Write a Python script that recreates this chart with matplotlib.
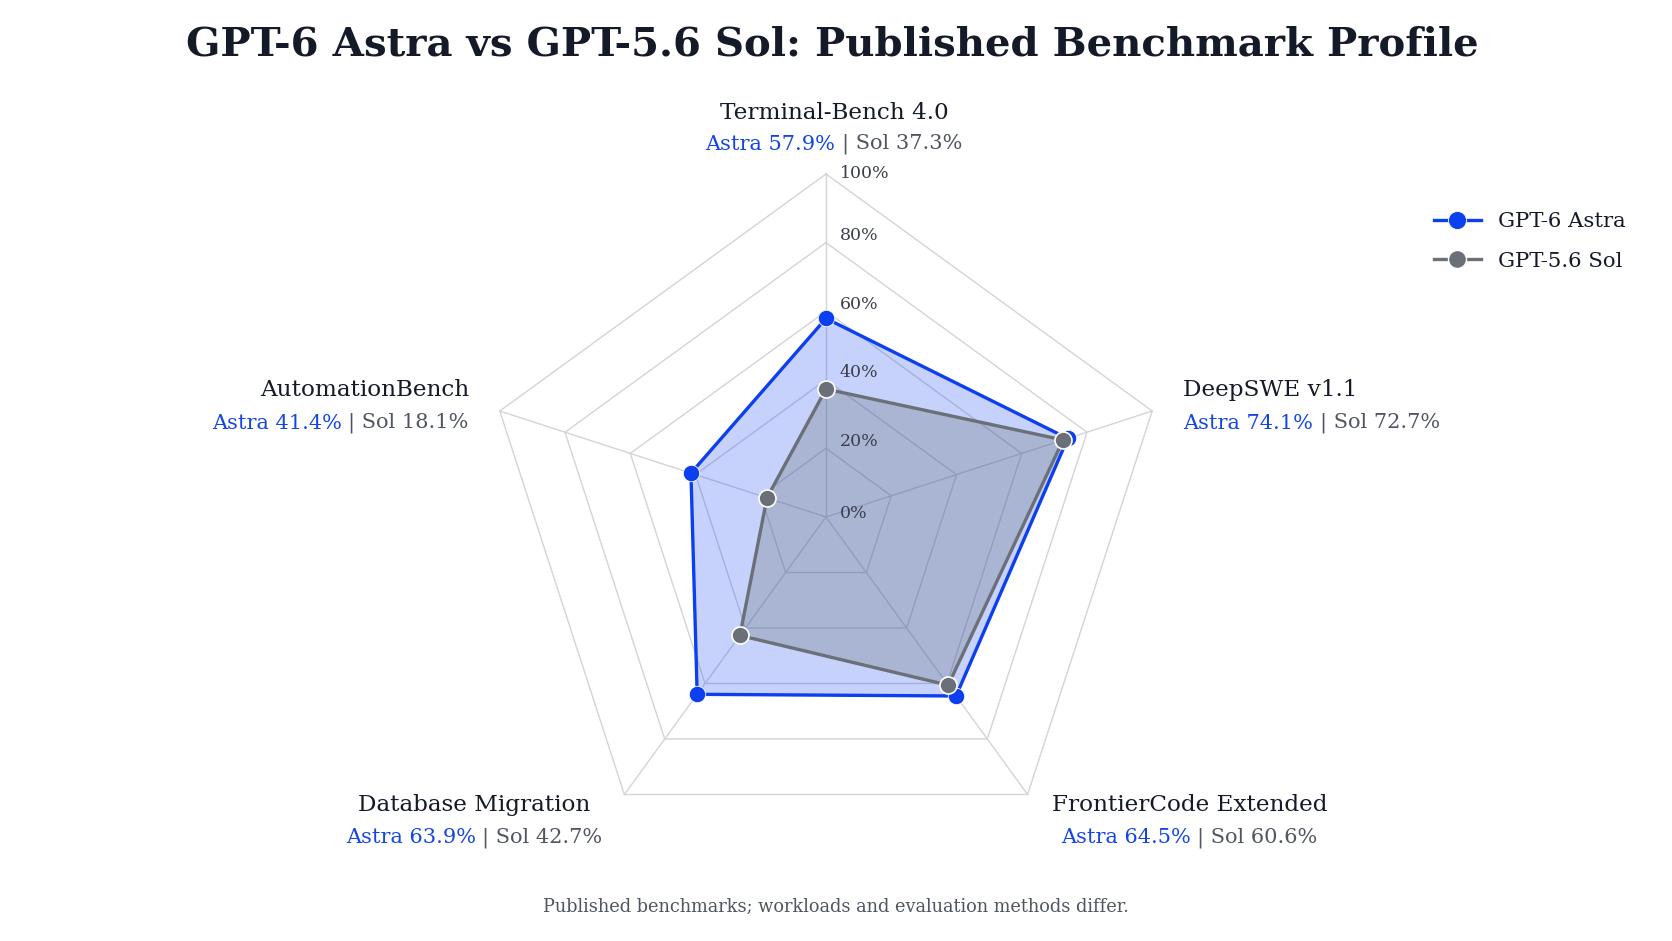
import numpy as np
import matplotlib.pyplot as plt
from matplotlib.lines import Line2D
from matplotlib.transforms import IdentityTransform

# --- data ---
categories = ["Terminal-Bench 4.0", "DeepSWE v1.1", "FrontierCode Extended",
              "Database Migration", "AutomationBench"]
astra = [57.9, 74.1, 64.5, 63.9, 41.4]
sol = [37.3, 72.7, 60.6, 42.7, 18.1]
ring_ticks = [0, 20, 40, 60, 80, 100]
ring_labels = ["0%", "20%", "40%", "60%", "80%", "100%"]
series_names = ["GPT-6 Astra", "GPT-5.6 Sol"]

# --- style ---
FONT = "DejaVu Serif"
BLUE = "#0b3ff0"
BLUE_TXT = "#1446e6"
GREY = "#6b7078"
GREY_TXT = "#4f5561"
DARK = "#151a28"
GRID = "#d2d4d8"

W, H = 1672, 941
plt.rcParams["font.family"] = FONT

fig = plt.figure(figsize=(W / 100, H / 100), dpi=100)
fig.patch.set_facecolor("white")

# radar axes: centre at (826, 517) px from top-left, 100% ring = 343 px
half = 400
ax = fig.add_axes([(826 - half) / W, (H - 517 - half) / H, 2 * half / W, 2 * half / H])
lim = 100 * half / 343
ax.set_xlim(-lim, lim)
ax.set_ylim(-lim, lim)
ax.axis("off")

angles = np.deg2rad(90 - 72 * np.arange(len(categories)))


def to_xy(vals):
    r = np.asarray(vals, dtype=float)
    x = r * np.cos(angles)
    y = r * np.sin(angles)
    return np.append(x, x[0]), np.append(y, y[0])


# polygon grid + spokes
for t in ring_ticks[1:]:
    gx, gy = to_xy([t] * len(categories))
    ax.plot(gx, gy, color=GRID, lw=1, zorder=1)
for a in angles:
    ax.plot([0, 100 * np.cos(a)], [0, 100 * np.sin(a)], color=GRID, lw=1, zorder=1)

# series
ax_x, ax_y = to_xy(astra)
ax.fill(ax_x, ax_y, color=BLUE, alpha=0.23, lw=0, zorder=2)
ax.plot(ax_x, ax_y, color=BLUE, lw=2.4, zorder=4)
ax.scatter(ax_x[:-1], ax_y[:-1], s=140, color=BLUE, edgecolor="white", lw=0.6, zorder=6)

so_x, so_y = to_xy(sol)
ax.fill(so_x, so_y, color=GREY, alpha=0.30, lw=0, zorder=3)
ax.plot(so_x, so_y, color=GREY, lw=2.4, zorder=5)
ax.scatter(so_x[:-1], so_y[:-1], s=150, color=GREY, edgecolor="white", lw=1.2, zorder=7)

# radial tick labels along the top spoke (vertical nudge in px per label)
tick_nudge = [4, 7, 7, 7, 7, 0]
for t, lbl, nd in zip(ring_ticks, ring_labels, tick_nudge):
    ax.annotate(lbl, xy=(0, t), xytext=(14, nd), textcoords="offset pixels",
                ha="left", va="center", fontsize=12.5, color="#3a3f4a", zorder=8)

# category labels: (dx, dy name, dy values) in px (+ = down), block anchor, line align
label_layout = [
    (8, -61, -30, "center", "center"),
    (31, -21, 12, "left", "left"),
    (24, 11, 43, "left", "center"),
    (-22, 11, 43, "right", "center"),
    (-31, -21, 12, "right", "right"),
]

renderer = fig.canvas.get_renderer()
ident = IdentityTransform()
NAME_SIZE = 16.7
VAL_SIZE = 15

for i, cat in enumerate(categories):
    dx, dyn, dyv, anchor, align = label_layout[i]
    vx, vy = ax.transData.transform((100 * np.cos(angles[i]), 100 * np.sin(angles[i])))
    blue_s = f"Astra {astra[i]:.1f}%"
    grey_s = f"| Sol {sol[i]:.1f}%"
    full_s = f"{blue_s} {grey_s}"

    name_t = fig.text(0, 0, cat, transform=ident, fontsize=NAME_SIZE, color=DARK,
                      ha="left", va="center")
    blue_t = fig.text(0, 0, blue_s, transform=ident, fontsize=VAL_SIZE, color=BLUE_TXT,
                      ha="left", va="center")
    grey_t = fig.text(0, 0, grey_s, transform=ident, fontsize=VAL_SIZE, color=GREY_TXT,
                      ha="left", va="center")
    tmp = fig.text(0, 0, full_s, transform=ident, fontsize=VAL_SIZE)
    w_name = name_t.get_window_extent(renderer).width
    w_full = tmp.get_window_extent(renderer).width
    w_grey = grey_t.get_window_extent(renderer).width
    tmp.remove()

    block = max(w_name, w_full)
    x0 = vx + dx
    if anchor == "left":
        left = x0
    elif anchor == "right":
        left = x0 - block
    else:
        left = x0 - block / 2

    def line_left(w):
        if align == "left":
            return left
        if align == "right":
            return left + block - w
        return left + (block - w) / 2

    name_t.set_position((line_left(w_name), vy - dyn))
    vl = line_left(w_full)
    blue_t.set_position((vl, vy - dyv))
    grey_t.set_position((vl + w_full - w_grey, vy - dyv))

# title + footnote
fig.text(832 / W, 1 - 44 / H, "GPT-6 Astra vs GPT-5.6 Sol: Published Benchmark Profile",
         ha="center", va="center", fontsize=29, fontweight="bold", color=DARK)
fig.text(836 / W, 1 - 907 / H, "Published benchmarks; workloads and evaluation methods differ.",
         ha="center", va="center", fontsize=12.8, color=GREY_TXT)

# legend
handles = [
    Line2D([], [], color=BLUE, lw=2.4, marker="o", markersize=13, markeredgecolor="white",
           markeredgewidth=0.6),
    Line2D([], [], color=GREY, lw=2.4, marker="o", markersize=13, markeredgecolor="white",
           markeredgewidth=1.0),
]
fig.legend(handles, series_names, loc="upper left", bbox_to_anchor=(1434 / W, 1 - 212 / H),
           frameon=False, fontsize=15.3, handlelength=2.2, handletextpad=0.8,
           labelspacing=0.98, borderpad=0, borderaxespad=0, labelcolor=DARK)

fig.savefig("out.png", dpi=100, facecolor="white")
